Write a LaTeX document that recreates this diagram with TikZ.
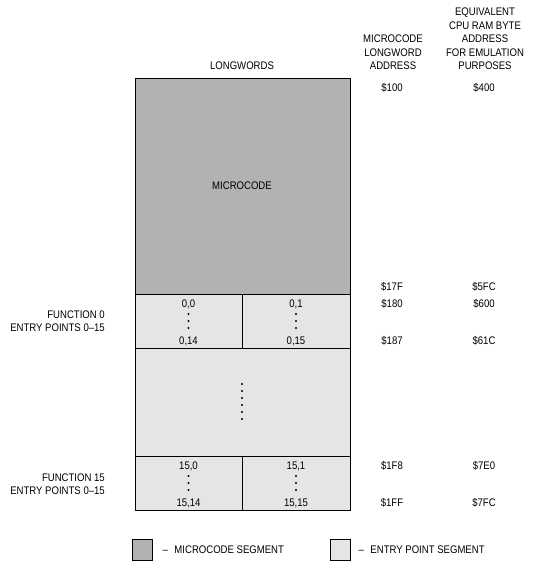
\documentclass[tikz,border=0pt]{standalone}
\usepackage{fontspec}
\setmainfont{Liberation Sans}[FakeStretch=0.87]
\usetikzlibrary{positioning}
\definecolor{mcgray}{gray}{0.70}
\definecolor{epgray}{gray}{0.90}
\tikzset{
	mcseg/.style={draw=black, fill=mcgray, line width=0.9pt},
	epseg/.style={draw=black, fill=epgray, line width=0.9pt},
	lbl/.style={inner sep=0pt, font=\fontsize{11}{13.5}\selectfont},
}
\begin{document}
\begin{tikzpicture}[x=1pt, y=-1pt]
		%%%%% START %%%%%
		\useasboundingbox (0, 0) rectangle (533, 567);
		
		% headings
		\node[lbl, anchor=base] (longwords) at (242, 70) {LONGWORDS};
		\node[lbl, anchor=south, align=center] (mcaddr) at (393, 70) {MICROCODE\\LONGWORD\\ADDRESS};
		\node[lbl, anchor=south, align=center] (cpuaddr) at (485, 70) {EQUIVALENT\\CPU RAM BYTE\\ADDRESS\\FOR EMULATION\\PURPOSES};
		
		% segments
		\draw[mcseg] (135, 78) rectangle (350, 294);
		\draw[epseg] (135, 294) rectangle (350, 348);
		\draw[epseg] (135, 348) rectangle (350, 456);
		\draw[epseg] (135, 456) rectangle (350, 510);
		\draw[line width=0.9pt] (242.5, 294) -- (242.5, 348);
		\draw[line width=0.9pt] (242.5, 456) -- (242.5, 510);
		
		\node[lbl] (microcode) at (242, 186) {MICROCODE};
		
		% function 0
		\node[lbl, anchor=base] (f0a) at (188.5, 307) {0,0};
		\node[lbl, anchor=base] (f0b) at (296, 307) {0,1};
		\node[lbl, anchor=base] (f0c) at (188.5, 344.5) {0,14};
		\node[lbl, anchor=base] (f0d) at (296, 344.5) {0,15};
		\foreach \y in {314, 321, 328} {
			\fill (188.5, \y) circle (1.1);
			\fill (296, \y) circle (1.1);
		}
		
		\foreach \y in {384, 391, 398, 405, 412, 419}
			\fill (242, \y) circle (1.1);
		
		% function 15
		\node[lbl, anchor=base] (f15a) at (188.5, 469) {15,0};
		\node[lbl, anchor=base] (f15b) at (296, 469) {15,1};
		\node[lbl, anchor=base] (f15c) at (188.5, 506) {15,14};
		\node[lbl, anchor=base] (f15d) at (296, 506) {15,15};
		\foreach \y in {476, 483, 490} {
			\fill (188.5, \y) circle (1.1);
			\fill (296, \y) circle (1.1);
		}
		
		\node[lbl, anchor=south east, align=right] (func0) at (105, 332) {FUNCTION 0\\ENTRY POINTS 0--15};
		\node[lbl, anchor=south east, align=right] (func15) at (105, 495) {FUNCTION 15\\ENTRY POINTS 0--15};
		
		% addresses
		\node[lbl, anchor=base] (a100) at (392, 92) {\$100};
		\node[lbl, anchor=base] (a17f) at (392, 290) {\$17F};
		\node[lbl, anchor=base] (a180) at (392, 307) {\$180};
		\node[lbl, anchor=base] (a187) at (392, 344.5) {\$187};
		\node[lbl, anchor=base] (a1f8) at (392, 469) {\$1F8};
		\node[lbl, anchor=base] (a1ff) at (392, 506) {\$1FF};
		
		\node[lbl, anchor=base] (b400) at (484, 92) {\$400};
		\node[lbl, anchor=base] (b5fc) at (484, 290) {\$5FC};
		\node[lbl, anchor=base] (b600) at (484, 307) {\$600};
		\node[lbl, anchor=base] (b61c) at (484, 344.5) {\$61C};
		\node[lbl, anchor=base] (b7e0) at (484, 469) {\$7E0};
		\node[lbl, anchor=base] (b7fc) at (484, 506) {\$7FC};
		
		% legend
		\node[mcseg, minimum width=20pt, minimum height=21pt, inner sep=0pt] (mclegend) at (142, 549.5) {};
		\node[lbl, right=10pt of mclegend] (mctext) {--\hspace{6.5pt}MICROCODE SEGMENT};
		\node[epseg, minimum width=20pt, minimum height=21pt, inner sep=0pt] (eplegend) at (340, 549.5) {};
		\node[lbl, right=8pt of eplegend] (eptext) {--\hspace{6.5pt}ENTRY POINT SEGMENT};
		
		%%%%% END %%%%%
\end{tikzpicture}
\end{document}
